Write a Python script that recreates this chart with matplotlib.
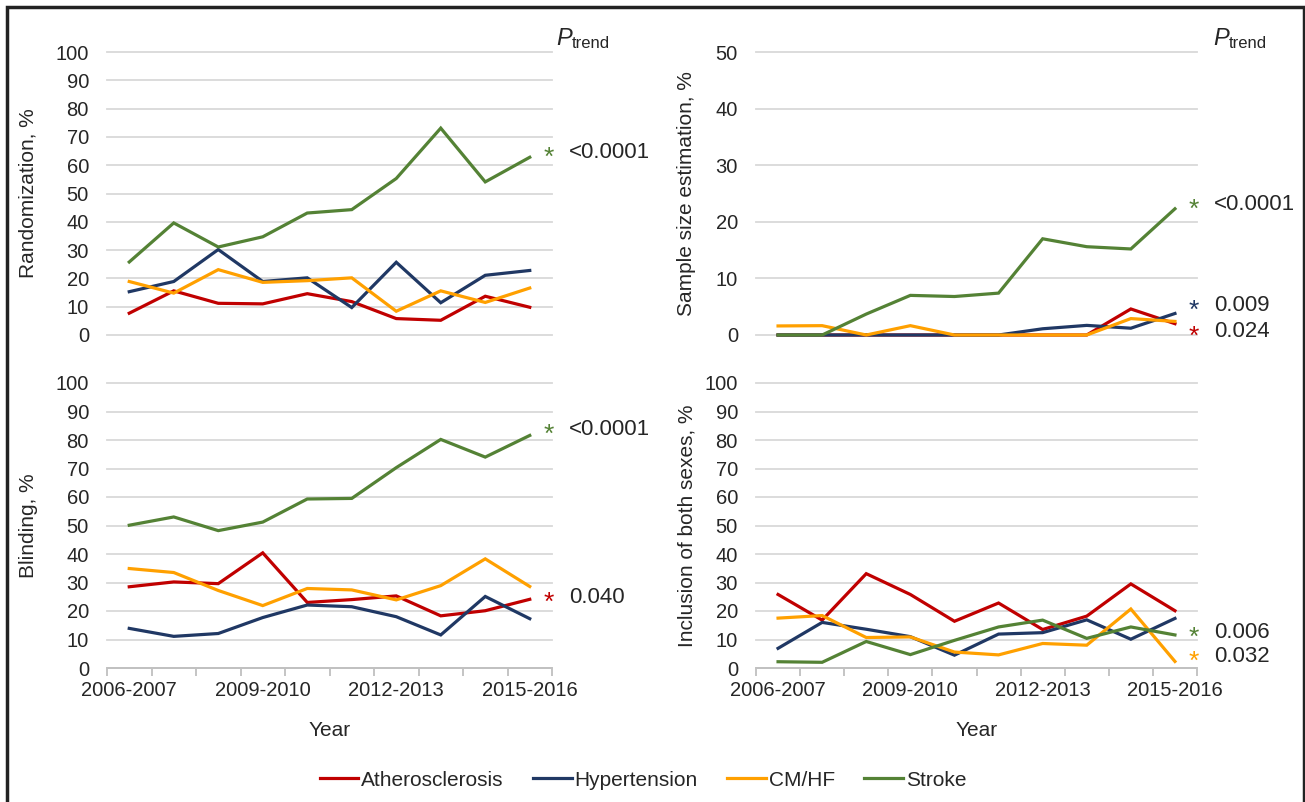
import matplotlib
matplotlib.use('Agg')
import matplotlib.pyplot as plt
from matplotlib.transforms import blended_transform_factory, ScaledTranslation
from matplotlib.lines import Line2D
from matplotlib.patches import Rectangle

plt.rcParams['font.family'] = ['Liberation Sans', 'DejaVu Sans']

# ---------------- data ----------------
periods = ['2006-2007', '2007-2008', '2008-2009', '2009-2010', '2010-2011',
           '2011-2012', '2012-2013', '2013-2014', '2014-2015', '2015-2016']
shown_ticks = ['2006-2007', '2009-2010', '2012-2013', '2015-2016']
series_names = ['Atherosclerosis', 'Hypertension', 'CM/HF', 'Stroke']
series_colors = ['#C00000', '#203864', '#FFA000', '#548235']

# Randomization, %
rand_ath = [7.7, 15.6, 11.2, 11.0, 14.6, 11.8, 5.8, 5.2, 13.7, 9.8]
rand_hyp = [15.3, 18.9, 30.2, 18.9, 20.2, 9.7, 25.7, 11.4, 21.1, 22.8]
rand_cm = [18.9, 14.8, 23.1, 18.6, 19.2, 20.2, 8.4, 15.6, 11.5, 16.6]
rand_str = [25.8, 39.6, 31.1, 34.7, 43.1, 44.3, 55.3, 73.1, 54.1, 62.8]

# Sample size estimation, %
ss_ath = [0, 0, 0, 0, 0, 0, 0, 0, 4.6, 2.0]
ss_hyp = [0, 0, 0, 0, 0, 0, 1.1, 1.7, 1.2, 3.8]
ss_cm = [1.6, 1.65, 0, 1.65, 0, 0, 0, 0, 2.9, 2.4]
ss_str = [0, 0, 3.7, 7.0, 6.8, 7.4, 17.0, 15.6, 15.2, 22.3]

# Blinding, %
bl_ath = [28.5, 30.2, 29.6, 40.4, 23.0, 24.0, 25.3, 18.3, 20.1, 24.1]
bl_hyp = [13.9, 11.1, 12.1, 17.7, 22.1, 21.5, 18.0, 11.6, 25.1, 17.3]
bl_cm = [34.9, 33.5, 27.2, 21.9, 27.9, 27.4, 23.9, 28.9, 38.3, 28.6]
bl_str = [50.1, 53.0, 48.2, 51.2, 59.3, 59.5, 70.3, 80.2, 74.0, 81.6]

# Inclusion of both sexes, %
sx_ath = [25.8, 16.8, 33.1, 25.8, 16.4, 22.8, 13.5, 18.2, 29.5, 20.1]
sx_hyp = [6.9, 16.0, 13.6, 11.0, 4.5, 11.9, 12.4, 16.9, 10.1, 17.4]
sx_cm = [17.5, 18.4, 10.7, 10.9, 5.6, 4.6, 8.6, 8.0, 20.7, 2.3]
sx_str = [2.2, 2.0, 9.3, 4.7, 9.7, 14.4, 16.8, 10.4, 14.4, 11.6]

# P-trend annotations: (series index, y level of label, text)
rand_p = [(3, 65.4, '<0.0001')]
ss_p = [(3, 23.5, '<0.0001'), (1, 5.6, '0.009'), (0, 1.1, '0.024')]
bl_p = [(3, 84.6, '<0.0001'), (0, 25.6, '0.040')]
sx_p = [(3, 13.3, '0.006'), (2, 4.9, '0.032')]

# ---------------- figure ----------------
W, H = 1305, 802
fig = plt.figure(figsize=(W / 100, H / 100), dpi=100)
TXT = '#262626'


def rect(l, r, t, b):
    return [l / W, 1 - b / H, (r - l) / W, (b - t) / H]


panels = [
    (rect(107, 552, 52, 335), [rand_ath, rand_hyp, rand_cm, rand_str], 'Randomization, %', 100, rand_p, False, 28),
    (rect(756, 1197, 52, 335), [ss_ath, ss_hyp, ss_cm, ss_str], 'Sample size estimation, %', 50, ss_p, False, 687),
    (rect(107, 552, 383, 668), [bl_ath, bl_hyp, bl_cm, bl_str], 'Blinding, %', 100, bl_p, True, 28),
    (rect(756, 1197, 383, 668), [sx_ath, sx_hyp, sx_cm, sx_str], 'Inclusion of both sexes, %', 100, sx_p, True, 687),
]

xs = list(range(len(periods)))
for pos, data, ylabel, ymax, pvals, show_x, ylab_px in panels:
    ax = fig.add_axes(pos)
    for vals, c in zip(data, series_colors):
        ax.plot(xs, vals, color=c, lw=2.3, solid_joinstyle='miter', clip_on=False, zorder=3)
    ax.set_xlim(-0.5, len(periods) - 0.5)
    ax.set_ylim(0, ymax)
    ax.set_yticks(range(0, ymax + 1, 10))
    ax.grid(axis='y', color='#D9D9D9', lw=1.3)
    ax.set_axisbelow(True)
    for gl in ax.get_ygridlines():
        gl.set_clip_on(False)
    for s in ['top', 'right', 'left']:
        ax.spines[s].set_visible(False)
    ax.tick_params(axis='y', length=0, pad=13, labelsize=14.5, labelcolor=TXT)
    if show_x:
        ax.spines['bottom'].set_color('#BFBFBF')
        ax.spines['bottom'].set_linewidth(1.3)
        ax.set_xticks([i - 0.5 for i in range(len(periods) + 1)])
        ax.set_xticklabels([])
        ax.tick_params(axis='x', which='major', length=6, width=1.3, color='#BFBFBF', direction='out')
        idx = [periods.index(p) for p in shown_ticks]
        ax.set_xticks(idx, minor=True)
        ax.set_xticklabels(shown_ticks, minor=True)
        ax.tick_params(axis='x', which='minor', length=0, pad=9, labelsize=14.5, labelcolor=TXT)
        ax.text(0.5, (668 - 730) / 285, 'Year', transform=ax.transAxes, ha='center', va='center',
                fontsize=15, color=TXT)
    else:
        ax.spines['bottom'].set_visible(False)
        ax.set_xticks([])
    # y label
    left_px = pos[0] * W
    width_px = pos[2] * W
    ax.text((ylab_px - left_px) / width_px, 0.5, ylabel, rotation=90, transform=ax.transAxes,
            ha='center', va='center', fontsize=15, color=TXT)
    # p-trend annotations
    ast_x = (width_px - 3) / width_px
    txt_x = (width_px + 17) / width_px
    bt = blended_transform_factory(ax.transAxes, ax.transData)
    fs = 16
    afs = 19
    for si, yv, t in pvals:
        tr_t = bt + ScaledTranslation(0, -0.716 * fs / 2 / 72, fig.dpi_scale_trans)
        ax.text(txt_x, yv, t, transform=tr_t, ha='left', va='baseline', fontsize=fs, color=TXT,
                clip_on=False)
        tr_a = bt + ScaledTranslation(0, (-0.58 * afs + 0.3) / 72, fig.dpi_scale_trans)
        ax.text(ast_x, yv, '*', transform=tr_a, ha='center', va='baseline', fontsize=afs,
                color=series_colors[si], clip_on=False)

# P_trend headers
for px in (556, 1213):
    fig.text(px / W, 1 - 45 / H, 'P', fontsize=17, style='italic', color=TXT, ha='left', va='baseline')
    fig.text((px + 16) / W, 1 - 48 / H, 'trend', fontsize=12, color=TXT, ha='left', va='baseline')

# legend
handles = [Line2D([0], [0], color=c, lw=2.3) for c in series_colors]
fig.legend(handles, series_names, loc='center', bbox_to_anchor=(643 / W, 1 - 780 / H), ncol=4,
           frameon=False, fontsize=15, handlelength=1.85, handletextpad=0.15, columnspacing=1.4,
           labelcolor=TXT)

# outer frame (left, top, right)
fig.add_artist(Rectangle((7 / W, -0.05), (1304 - 7) / W, 1.05 - 7 / H, transform=fig.transFigure,
                         fill=False, edgecolor='#222222', lw=2.5, clip_on=False))

fig.savefig('out.png', dpi=100)
